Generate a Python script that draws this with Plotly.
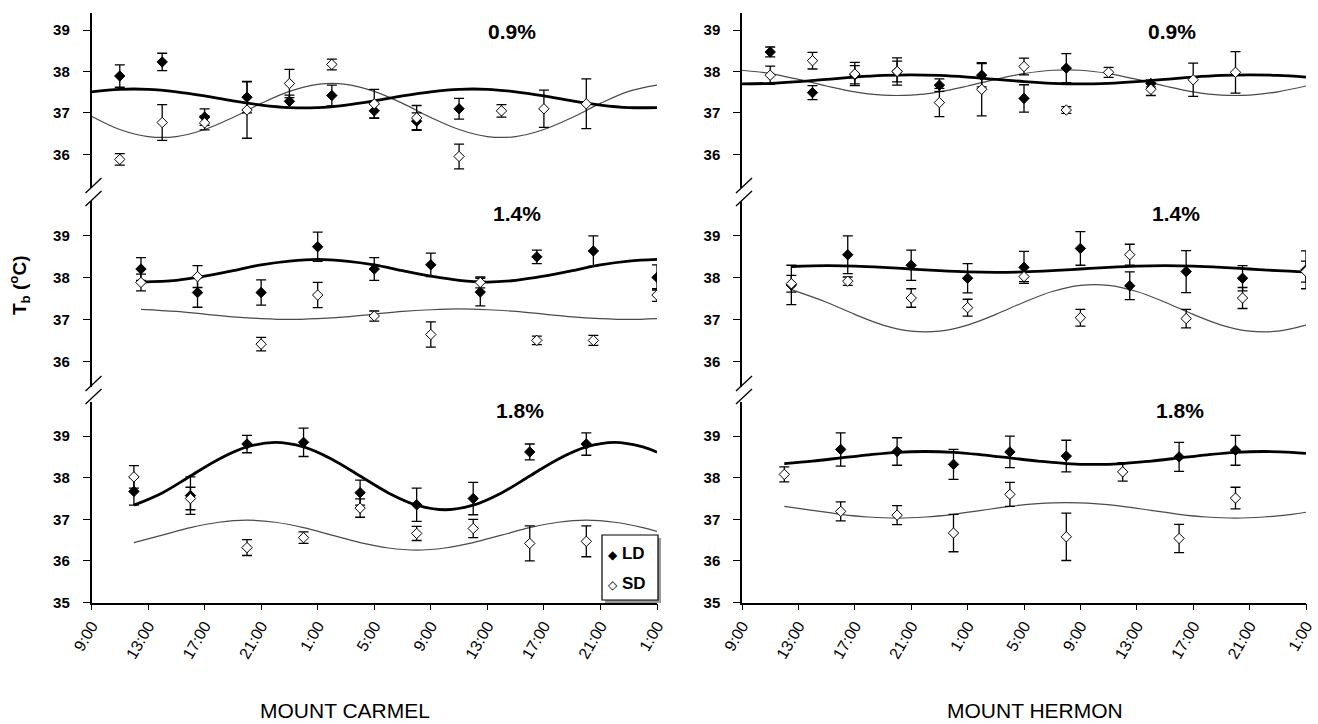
import plotly.graph_objects as go

W, H = 1318, 724

# ---------------- data (hours after 9:00 on day 1) ----------------
TICK_HOURS = [0, 4, 8, 12, 16, 20, 24, 28, 32, 36, 40]
TICK_TEXT = ["9:00", "13:00", "17:00", "21:00", "1:00", "5:00",
             "9:00", "13:00", "17:00", "21:00", "1:00"]

t_09 = [2, 5, 8, 11, 14, 17, 20, 23, 26, 29, 32, 35]
t_14 = [3.5, 7.5, 12, 16, 20, 24, 27.5, 31.5, 35.5, 40]
t_18 = [3, 7, 11, 15, 19, 23, 27, 31, 35]

# Mount Carmel
carmel_09_ld = [37.89, 38.23, 36.90, 37.38, 37.28, 37.42, 37.05, 36.80, 37.10, None, None, None]
carmel_09_ld_err = [0.27, 0.21, 0.20, 0.38, 0.15, 0.25, 0.17, 0.20, 0.25, 0, 0, 0]
carmel_09_sd = [35.88, 36.77, 36.76, 37.07, 37.71, 38.17, 37.22, 36.88, 35.95, 37.05, 37.10, 37.22]
carmel_09_sd_err = [0.14, 0.43, 0.17, 0.68, 0.34, 0.13, 0.35, 0.30, 0.30, 0.15, 0.45, 0.60]

carmel_14_ld = [38.20, 37.64, 37.64, 38.73, 38.20, 38.30, 37.65, 38.49, 38.63, 38.00]
carmel_14_ld_err = [0.27, 0.35, 0.30, 0.35, 0.27, 0.28, 0.33, 0.16, 0.36, 0.30]
carmel_14_sd = [37.88, 38.02, 36.41, 37.58, 37.08, 36.64, 37.88, 36.50, 36.50, 37.58]
carmel_14_sd_err = [0.20, 0.26, 0.16, 0.30, 0.12, 0.30, 0.13, 0.10, 0.12, 0.15]

carmel_18_ld = [37.67, 37.57, 38.81, 38.85, 37.64, 37.35, 37.50, 38.62, 38.81]
carmel_18_ld_err = [0.33, 0.45, 0.21, 0.34, 0.30, 0.40, 0.39, 0.19, 0.27]
carmel_18_sd = [38.02, 37.50, 36.32, 36.56, 37.27, 36.66, 36.78, 36.42, 36.47]
carmel_18_sd_err = [0.27, 0.27, 0.19, 0.14, 0.22, 0.17, 0.22, 0.42, 0.37]

# Mount Hermon
hermon_09_ld = [38.47, 37.49, 37.92, 38.00, 37.67, 37.91, 37.35, 38.08, None, 37.71, None, None]
hermon_09_ld_err = [0.12, 0.17, 0.22, 0.33, 0.15, 0.28, 0.33, 0.35, 0, 0.08, 0, 0]
hermon_09_sd = [37.91, 38.26, 37.94, 38.00, 37.25, 37.57, 38.12, 37.07, 37.98, 37.57, 37.80, 37.98]
hermon_09_sd_err = [0.22, 0.20, 0.28, 0.25, 0.34, 0.64, 0.20, 0.08, 0.12, 0.15, 0.40, 0.50]

hermon_14_ld = [37.82, 38.54, 38.29, 37.98, 38.24, 38.69, 37.80, 38.14, 37.98, 38.18]
hermon_14_ld_err = [0.47, 0.45, 0.36, 0.35, 0.38, 0.40, 0.33, 0.50, 0.30, 0.45]
hermon_14_sd = [37.85, 37.91, 37.51, 37.28, 38.02, 37.04, 38.54, 37.02, 37.51, 38.14]
hermon_14_sd_err = [0.20, 0.10, 0.22, 0.20, 0.12, 0.20, 0.25, 0.22, 0.25, 0.25]

hermon_18_ld = [None, 38.68, 38.63, 38.32, 38.62, 38.52, None, 38.50, 38.66]
hermon_18_ld_err = [0, 0.40, 0.33, 0.36, 0.38, 0.38, 0, 0.35, 0.36]
hermon_18_sd = [38.08, 37.19, 37.10, 36.67, 37.60, 36.58, 38.14, 36.54, 37.51]
hermon_18_sd_err = [0.18, 0.23, 0.23, 0.45, 0.29, 0.57, 0.22, 0.34, 0.26]

# fitted curves
c_09 = [0, 2, 4, 6, 8, 10, 12, 14, 16, 18, 20, 22, 24, 26, 28, 30, 32, 34, 36, 38, 40]
carmel_09_ld_fit = [37.51, 37.57, 37.57, 37.51, 37.41, 37.29, 37.19, 37.13, 37.13, 37.19, 37.29,
                    37.41, 37.51, 37.57, 37.57, 37.51, 37.41, 37.29, 37.19, 37.13, 37.13]
carmel_09_sd_fit = [36.92, 36.60, 36.43, 36.43, 36.60, 36.89, 37.23, 37.52, 37.69, 37.69, 37.52,
                    37.23, 36.89, 36.60, 36.43, 36.43, 36.60, 36.89, 37.23, 37.52, 37.67]
hermon_09_ld_fit = [37.70, 37.715, 37.755, 37.81, 37.865, 37.905, 37.92, 37.905, 37.865, 37.81, 37.755,
                    37.715, 37.70, 37.715, 37.755, 37.81, 37.865, 37.905, 37.92, 37.905, 37.865]
hermon_09_sd_fit = [38.03, 37.95, 37.81, 37.65, 37.51, 37.43, 37.43, 37.51, 37.65, 37.81, 37.95,
                    38.03, 38.03, 37.95, 37.81, 37.65, 37.51, 37.43, 37.43, 37.51, 37.65]

c_14 = [3.5, 6, 8, 10, 12, 14, 16, 18, 20, 22, 24, 26, 28, 30, 32, 34, 36, 38, 40]
carmel_14_ld_fit = [37.89, 37.93, 38.03, 38.16, 38.30, 38.39, 38.43, 38.39, 38.30, 38.16,
                    38.03, 37.93, 37.89, 37.93, 38.03, 38.16, 38.30, 38.39, 38.43]
carmel_14_sd_fit = [37.24, 37.19, 37.125, 37.06, 37.02, 37.00, 37.02, 37.06, 37.125, 37.19,
                    37.23, 37.25, 37.23, 37.19, 37.125, 37.06, 37.02, 37.00, 37.02]
hermon_14_ld_fit = [38.26, 38.28, 38.27, 38.24, 38.20, 38.16, 38.13, 38.12, 38.13, 38.16,
                    38.20, 38.24, 38.27, 38.28, 38.27, 38.24, 38.20, 38.16, 38.13]
hermon_14_sd_fit = [37.71, 37.41, 37.12, 36.865, 36.72, 36.72, 36.865, 37.12, 37.41, 37.665,
                    37.81, 37.81, 37.665, 37.41, 37.12, 36.865, 36.72, 36.72, 36.865]

c_18 = [3, 5, 7, 9, 11, 13, 15, 17, 19, 21, 23, 25, 27, 29, 31, 33, 35, 37, 39, 40]
carmel_18_ld_fit = [37.34, 37.635, 38.04, 38.445, 38.74, 38.85, 38.74, 38.445, 38.04, 37.635,
                    37.34, 37.23, 37.34, 37.635, 38.04, 38.445, 38.74, 38.85, 38.74, 38.61]
carmel_18_sd_fit = [36.44, 36.62, 36.80, 36.93, 36.98, 36.93, 36.80, 36.62, 36.44, 36.31,
                    36.26, 36.31, 36.44, 36.62, 36.80, 36.93, 36.98, 36.93, 36.80, 36.71]
hermon_18_ld_fit = [38.34, 38.40, 38.475, 38.55, 38.61, 38.63, 38.61, 38.55, 38.475, 38.40,
                    38.34, 38.32, 38.34, 38.40, 38.475, 38.55, 38.61, 38.63, 38.61, 38.585]
hermon_18_sd_fit = [37.31, 37.215, 37.12, 37.055, 37.03, 37.055, 37.12, 37.215, 37.31, 37.375,
                    37.40, 37.375, 37.31, 37.215, 37.12, 37.055, 37.03, 37.055, 37.12, 37.17]

panel_labels = ["0.9%", "1.4%", "1.8%"]
site_names = ["MOUNT CARMEL", "MOUNT HERMON"]

panels = [
    # (col, row, t, ld, ld_err, sd, sd_err, curve_t, ld_fit, sd_fit)
    (0, 0, t_09, carmel_09_ld, carmel_09_ld_err, carmel_09_sd, carmel_09_sd_err, c_09, carmel_09_ld_fit, carmel_09_sd_fit),
    (0, 1, t_14, carmel_14_ld, carmel_14_ld_err, carmel_14_sd, carmel_14_sd_err, c_14, carmel_14_ld_fit, carmel_14_sd_fit),
    (0, 2, t_18, carmel_18_ld, carmel_18_ld_err, carmel_18_sd, carmel_18_sd_err, c_18, carmel_18_ld_fit, carmel_18_sd_fit),
    (1, 0, t_09, hermon_09_ld, hermon_09_ld_err, hermon_09_sd, hermon_09_sd_err, c_09, hermon_09_ld_fit, hermon_09_sd_fit),
    (1, 1, t_14, hermon_14_ld, hermon_14_ld_err, hermon_14_sd, hermon_14_sd_err, c_14, hermon_14_ld_fit, hermon_14_sd_fit),
    (1, 2, t_18, hermon_18_ld, hermon_18_ld_err, hermon_18_sd, hermon_18_sd_err, c_18, hermon_18_ld_fit, hermon_18_sd_fit),
]

# ---------------- layout geometry (pixels) ----------------
COL_X = [(91.5, 657.0), (742.0, 1306.0)]
ROW_Y = [(13, 188, 35.19, 39.41, [36, 37, 38, 39]),
         (201, 387, 35.39, 39.82, [36, 37, 38, 39]),
         (402, 602.5, 35.0, 39.82, [35, 36, 37, 38, 39])]


def px(x):
    return x / W


def py(y):
    return 1 - y / H


FONT = "Liberation Sans, Arial, sans-serif"
fig = go.Figure()
layout = {}

for k, (col, row, t, ld, lde, sd, sde, ct, ldf, sdf) in enumerate(panels, start=1):
    xa = "x" if k == 1 else f"x{k}"
    ya = "y" if k == 1 else f"y{k}"
    fig.add_trace(go.Scatter(x=ct, y=sdf, mode="lines", xaxis=xa, yaxis=ya,
                             line=dict(color="#4a4a4a", width=1.2, shape="spline", smoothing=1.0),
                             showlegend=False, hoverinfo="skip"))
    fig.add_trace(go.Scatter(x=ct, y=ldf, mode="lines", xaxis=xa, yaxis=ya,
                             line=dict(color="black", width=2.8, shape="spline", smoothing=1.0),
                             showlegend=False, hoverinfo="skip"))
    fig.add_trace(go.Scatter(x=t, y=ld, mode="markers", xaxis=xa, yaxis=ya, name="LD",
                             marker=dict(symbol="diamond", size=8, color="black",
                                         line=dict(color="black", width=1)),
                             error_y=dict(type="data", array=lde, color="black", thickness=1.3, width=5),
                             showlegend=False))
    fig.add_trace(go.Scatter(x=t, y=sd, mode="markers", xaxis=xa, yaxis=ya, name="SD",
                             marker=dict(symbol="diamond", size=8, color="white",
                                         line=dict(color="black", width=1)),
                             error_y=dict(type="data", array=sde, color="black", thickness=1.3, width=5),
                             showlegend=False))

    x0, x1 = COL_X[col]
    ytop, ybot, ymin, ymax, yticks = ROW_Y[row]
    xkey = "xaxis" if k == 1 else f"xaxis{k}"
    ykey = "yaxis" if k == 1 else f"yaxis{k}"
    bottom = row == 2
    layout[xkey] = dict(domain=[px(x0), px(x1)], anchor=ya, range=[0, 40],
                        visible=bottom, showgrid=False, zeroline=False, automargin=False,
                        showline=bottom, linecolor="black", linewidth=1.5,
                        ticks="outside", ticklen=6, tickwidth=1.3, tickcolor="black",
                        tickmode="array", tickvals=TICK_HOURS, ticktext=TICK_TEXT,
                        tickangle=-60, tickfont=dict(family=FONT, size=16, color="black"))
    layout[ykey] = dict(domain=[py(ybot), py(ytop)], anchor=xa, range=[ymin, ymax],
                        showgrid=False, zeroline=False, showline=True, automargin=False,
                        linecolor="black", linewidth=1.5,
                        ticks="outside", ticklen=7, tickwidth=1.3, tickcolor="black",
                        tickmode="array", tickvals=yticks, ticklabelstandoff=10,
                        tickfont=dict(family=FONT, size=15, color="black", weight="bold"))

shapes = []
annotations = []

# axis breaks
for col in range(2):
    ax = COL_X[col][0]
    for yc in (186, 384):
        for dy in (0, 13):
            shapes.append(dict(type="line", xref="paper", yref="paper",
                               x0=px(ax - 8 + 2), y0=py(yc + dy + 7),
                               x1=px(ax + 8 + 2), y1=py(yc + dy - 8),
                               line=dict(color="black", width=1.3)))

# panel labels
LABEL_POS = [[(512, 31), (517, 214), (520, 410)], [(1172, 31), (1176, 214), (1180, 410)]]
for col in range(2):
    for row in range(3):
        lx, ly = LABEL_POS[col][row]
        annotations.append(dict(text=panel_labels[row], xref="paper", yref="paper",
                                x=px(lx), y=py(ly), xanchor="center", yanchor="middle",
                                showarrow=False,
                                font=dict(family=FONT, size=21, color="black", weight="bold")))

# site names
for col, cx in enumerate([345, 1035]):
    annotations.append(dict(text=site_names[col], xref="paper", yref="paper",
                            x=px(cx), y=0, xanchor="center", yanchor="bottom",
                            showarrow=False, font=dict(family=FONT, size=21, color="black")))

# y-axis title
annotations.append(dict(text="T<sub>b</sub> (<sup>o</sup>C)", xref="paper", yref="paper",
                        x=px(19), y=py(285), xanchor="center", yanchor="middle",
                        textangle=-90, showarrow=False,
                        font=dict(family=FONT, size=19, color="black", weight="bold")))

# legend box (bottom-left panel)
shapes.append(dict(type="rect", xref="paper", yref="paper", layer="above",
                   x0=px(605), x1=px(661), y0=py(603), y1=py(538),
                   fillcolor="#9a9a9a", line=dict(width=0)))
shapes.append(dict(type="rect", xref="paper", yref="paper", layer="above",
                   x0=px(602), x1=px(658), y0=py(600), y1=py(535),
                   fillcolor="white", line=dict(color="black", width=1.2)))
for sym, txt, ly in (("\u25c6", "LD", 553), ("\u25c7", "SD", 583)):
    annotations.append(dict(text=f"<span style='font-size:12px'>{sym}</span> {txt}",
                            xref="paper", yref="paper",
                            x=px(606), y=py(ly), xanchor="left", yanchor="middle",
                            showarrow=False,
                            font=dict(family="Liberation Sans, DejaVu Sans", size=17,
                                      color="black", weight="bold")))

fig.update_layout(width=W, height=H, margin=dict(l=0, r=0, t=0, b=0),
                  paper_bgcolor="white", plot_bgcolor="rgba(0,0,0,0)",
                  showlegend=False, shapes=shapes, annotations=annotations, **layout)

fig.write_html("out.html", config={"displayModeBar": False},
               post_script="document.body.style.margin='0px';document.body.style.overflow='hidden';")
